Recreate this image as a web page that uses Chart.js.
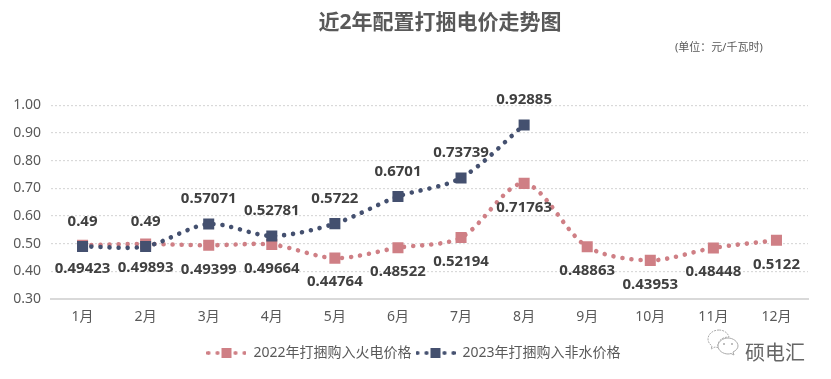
<!DOCTYPE html>
<html>
<head>
<meta charset="utf-8">
<script src="https://cdn.jsdelivr.net/npm/chart.js@4/dist/chart.umd.min.js"></script>
<style>
  html, body { margin: 0; padding: 0; background: #fff; }
  #wrap { position: relative; width: 831px; height: 379px; }
  #unit { position: absolute; left: 675px; top: 38px; font: 11px "Noto Sans", "Noto Sans CJK SC", sans-serif; color: #595959; white-space: nowrap; }
  #mark { position: absolute; left: 745px; top: 338px; font: 20px/28px "Noto Sans CJK SC", sans-serif; color: #666; white-space: nowrap; }
  #icon { position: absolute; left: 707px; top: 329px; }
</style>
</head>
<body>
<div id="wrap">
  <canvas id="chart" width="831" height="379"></canvas>
  <div id="unit">(单位：元/千瓦时)</div>
  <svg id="icon" width="32" height="27" viewBox="0 0 32 27" fill="#fff" stroke="#aaa" stroke-width="1">
    <path d="M12 1C6 1 1 5 1 10c0 3 1.500 5 4 7l-1 3 4-2c1 .3 2 .5 3 .5C10 12 15 8 22 8 21 4 17 1 12 1z" stroke-dasharray="2 1"/>
    <path d="M21 9c-5 0-10 3.500-10 8s5 8 10 8c1 0 2-.2 3-.5l3 1.500-1-3c3-1.500 5-3.500 5-6 0-4.500-5-8-10-8z"/>
    <circle cx="17" cy="15" r="1" fill="#aaa" stroke="none"/>
    <circle cx="25" cy="15" r="1" fill="#aaa" stroke="none"/>
  </svg>
  <div id="mark">硕电汇</div>
</div>
<script>
const months = ["1月", "2月", "3月", "4月", "5月", "6月", "7月", "8月", "9月", "10月", "11月", "12月"];
const price2022 = [0.49423, 0.49893, 0.49399, 0.49664, 0.44764, 0.48522, 0.52194, 0.71763, 0.48863, 0.43953, 0.48448, 0.5122];
const price2023 = [0.49, 0.49, 0.57071, 0.52781, 0.5722, 0.6701, 0.73739, 0.92885];
const name2022 = "2022年打捆购入火电价格";
const name2023 = "2023年打捆购入非水价格";

const pink = "#CF7F85";
const navy = "#44506F";
const fontFamily = '"Noto Sans", "Noto Sans CJK SC", sans-serif';

// legend swatch: dotted line with the square in the middle
function legendIcon(color) {
  const c = document.createElement("canvas");
  c.width = 40;
  c.height = 14;
  const g = c.getContext("2d");
  g.fillStyle = color;
  [2, 11, 29, 38].forEach((x) => {
    g.beginPath();
    g.arc(x, 7, 2.1, 0, Math.PI * 2);
    g.fill();
  });
  g.fillRect(15, 2, 10, 10);
  return c;
}

// values above / below the points, datalabels plugin is not available
const valueLabels = {
  id: "valueLabels",
  afterDatasetsDraw(chart) {
    const ctx = chart.ctx;
    ctx.save();
    ctx.font = "bold 15px " + fontFamily;
    ctx.fillStyle = "#404040";
    ctx.textAlign = "center";
    ctx.textBaseline = "middle";
    chart.data.datasets.forEach((ds, i) => {
      chart.getDatasetMeta(i).data.forEach((pt, j) => {
        ctx.fillText(String(ds.data[j]), pt.x, pt.y + ds.labelShift);
      });
    });
    ctx.restore();
  },
};

// title and legend are not centred on the plot in the original
const blockShift = {
  id: "blockShift",
  afterLayout(chart) {
    chart.titleBlock.left += 36;
    chart.titleBlock.right += 36;
    chart.legend.left += 9.5;
    chart.legend.right += 9.5;
  },
};

new Chart(document.getElementById("chart"), {
  type: "line",
  plugins: [valueLabels, blockShift],
  data: {
    labels: months,
    datasets: [
      {
        label: name2022,
        data: price2022,
        labelShift: 24,
        order: 2,
        borderColor: pink,
        backgroundColor: pink,
        borderWidth: 4.6,
        borderDash: [0.01, 9],
        borderCapStyle: "round",
        tension: 0.3,
        pointStyle: "rect",
        pointRadius: 7.8,
        pointBorderWidth: 0,
      },
      {
        label: name2023,
        data: price2023,
        labelShift: -25,
        order: 1,
        borderColor: navy,
        backgroundColor: navy,
        borderWidth: 4.6,
        borderDash: [0.01, 9],
        borderCapStyle: "round",
        tension: 0.3,
        pointStyle: "rect",
        pointRadius: 7.8,
        pointBorderWidth: 0,
      },
    ],
  },
  options: {
    responsive: false,
    animation: false,
    layout: { padding: { top: 10, right: 23, bottom: 9, left: 0 } },
    plugins: {
      tooltip: { enabled: false },
      title: {
        display: true,
        text: "近2年配置打捆电价走势图",
        color: "#595959",
        font: { family: fontFamily, size: 21, weight: "bold" },
        padding: { top: 0, bottom: 70 },
      },
      legend: {
        position: "bottom",
        labels: {
          color: "#595959",
          font: { family: fontFamily, size: 14 },
          usePointStyle: true,
          pointStyleWidth: 40,
          boxHeight: 14,
          padding: 4,
          generateLabels(chart) {
            return chart.data.datasets.map((ds, i) => ({
              text: ds.label,
              fontColor: "#595959",
              pointStyle: legendIcon(ds.borderColor),
              datasetIndex: i,
              lineWidth: 0,
            }));
          },
        },
      },
    },
    scales: {
      x: {
        offset: true,
        afterFit(scale) {
          scale.height = 43;
        },
        grid: { display: false },
        border: { color: "#D9D9D9", width: 2 },
        ticks: { color: "#595959", font: { family: fontFamily, size: 14 }, padding: 2 },
      },
      y: {
        min: 0.3,
        max: 1,
        afterFit(scale) {
          scale.width = 51;
        },
        grid: { color: "#D9D9D9", lineWidth: 1.2, drawTicks: false },
        border: { display: false, dash: [2, 2] },
        ticks: {
          stepSize: 0.1,
          color: "#595959",
          font: { family: fontFamily, size: 14 },
          padding: 10,
          callback: (v) => v.toFixed(2),
        },
      },
    },
  },
});
</script>
</body>
</html>
